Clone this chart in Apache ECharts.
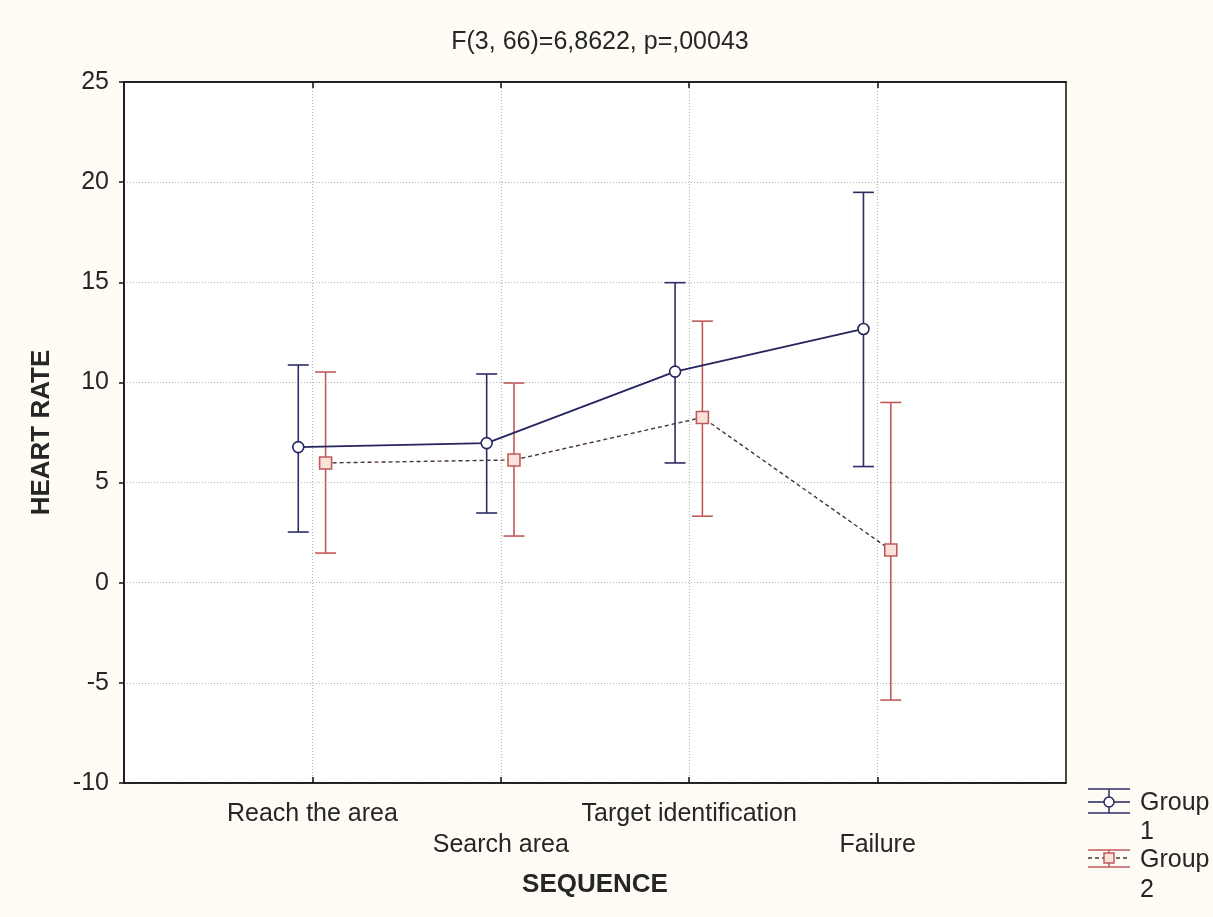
<!DOCTYPE html>
<html>
<head>
<meta charset="utf-8">
<script src="https://cdn.jsdelivr.net/npm/echarts@6/dist/echarts.min.js"></script>
<style>
  html, body { margin: 0; padding: 0; background: #fefcf4; }
  #chart { width: 1213px; height: 917px; }
</style>
</head>
<body>
<div id="chart"></div>
<script>
// Heart rate by mission sequence, means with confidence intervals per group
const categories = ['Reach the area', 'Search area', 'Target identification', 'Failure'];
const yTicks = [-10, -5, 0, 5, 10, 15, 20, 25];

const group1Mean  = [6.77, 6.97, 10.54, 12.67];
const group1Upper = [10.87, 10.42, 14.98, 19.49];
const group1Lower = [2.53, 3.48, 5.98, 5.80];

const group2Mean  = [5.98, 6.13, 8.25, 1.63];
const group2Upper = [10.52, 9.97, 13.06, 9.00];
const group2Lower = [1.48, 2.33, 3.32, -5.86];

const FONT = '"Liberation Sans", Arial, sans-serif';
const TEXT = '#262626';
const C1 = '#24245e';
const C1bar = '#2c2c66';
const C2 = '#c05a5a';
const C2line = '#4a3434';

// groups sit slightly left / right of each category position
const OFFSET1 = -0.075;
const OFFSET2 = 0.07;

function pointsFor(means, off) {
  return means.map((v, i) => [i + 1 + off, v]);
}
function barsFor(lower, upper, off) {
  return lower.map((lo, i) => [i + 1 + off, lo, upper[i]]);
}

function errorBarRenderer(color) {
  return function (params, api) {
    const x = api.value(0);
    const lo = api.coord([x, api.value(1)]);
    const hi = api.coord([x, api.value(2)]);
    const half = 10.5;
    const style = { stroke: color, lineWidth: 1.6, fill: null };
    return {
      type: 'group',
      children: [
        { type: 'line', shape: { x1: lo[0], y1: lo[1], x2: hi[0], y2: hi[1] }, style: style },
        { type: 'line', shape: { x1: hi[0] - half, y1: hi[1], x2: hi[0] + half, y2: hi[1] }, style: style },
        { type: 'line', shape: { x1: lo[0] - half, y1: lo[1], x2: lo[0] + half, y2: lo[1] }, style: style }
      ]
    };
  };
}

const chart = echarts.init(document.getElementById('chart'));

const xAxisBase = {
  type: 'value',
  min: 0,
  max: 5,
  interval: 1,
  axisLine: { show: true, onZero: false, lineStyle: { color: '#111', width: 1.5 } },
  axisTick: {
    show: true, inside: true, length: 6,
    lineStyle: { color: '#111', width: 1.5 },
    customValues: [1, 2, 3, 4]
  }
};

// legend swatches drawn as small error-bar glyphs with wrapped labels
const legendGraphics = [
  // Group 1
  { type: 'line', shape: { x1: 1088, y1: 789, x2: 1130, y2: 789 }, style: { stroke: C1bar, lineWidth: 1.5 } },
  { type: 'line', shape: { x1: 1088, y1: 813, x2: 1130, y2: 813 }, style: { stroke: C1bar, lineWidth: 1.5 } },
  { type: 'line', shape: { x1: 1109, y1: 789, x2: 1109, y2: 813 }, style: { stroke: C1bar, lineWidth: 1.5 } },
  { type: 'line', shape: { x1: 1088, y1: 802, x2: 1130, y2: 802 }, style: { stroke: C1, lineWidth: 1.5 } },
  { type: 'circle', shape: { cx: 1109, cy: 802, r: 5 }, style: { fill: '#fff', stroke: C1, lineWidth: 1.5 } },
  { type: 'text', left: 1140, top: 789, style: { text: 'Group\n1', font: '25px ' + FONT, fill: TEXT, lineHeight: 29 } },
  // Group 2
  { type: 'line', shape: { x1: 1088, y1: 850, x2: 1130, y2: 850 }, style: { stroke: C2, lineWidth: 1.5 } },
  { type: 'line', shape: { x1: 1088, y1: 867, x2: 1130, y2: 867 }, style: { stroke: C2, lineWidth: 1.5 } },
  { type: 'line', shape: { x1: 1109, y1: 850, x2: 1109, y2: 867 }, style: { stroke: C2, lineWidth: 1.5 } },
  { type: 'line', shape: { x1: 1088, y1: 858, x2: 1130, y2: 858 }, style: { stroke: C2line, lineWidth: 1.3, lineDash: [4, 3] } },
  { type: 'rect', shape: { x: 1104, y: 853, width: 10, height: 10 }, style: { fill: '#fbe2da', stroke: C2, lineWidth: 1.5 } },
  { type: 'text', left: 1140, top: 845, style: { text: 'Group\n2', font: '25px ' + FONT, fill: TEXT, lineHeight: 30 } }
];

chart.setOption({
  backgroundColor: '#fefcf4',
  animation: false,
  title: {
    text: 'F(3, 66)=6,8622, p=,00043',
    left: 595,
    textAlign: 'center',
    top: 25,
    textStyle: { fontFamily: FONT, fontSize: 25, fontWeight: 'normal', color: TEXT }
  },
  grid: {
    left: 124, right: 147, top: 82, bottom: 134,
    show: true, backgroundColor: '#ffffff',
    borderColor: '#111', borderWidth: 1.5
  },
  xAxis: [
    Object.assign({}, xAxisBase, {
      position: 'bottom',
      name: 'SEQUENCE',
      nameLocation: 'middle',
      nameGap: 89,
      nameTextStyle: { fontFamily: FONT, fontSize: 26, fontWeight: 'bold', color: TEXT },
      axisLabel: {
        fontFamily: FONT, fontSize: 25, color: TEXT, margin: 16,
        lineHeight: 31,
        formatter: function (v) {
          const i = Math.round(v) - 1;
          if (i < 0 || i >= categories.length) return '';
          return (i % 2 === 1 ? '\n' : '') + categories[i];
        }
      },
      splitLine: { show: true, lineStyle: { color: '#b4b4b4', type: [1, 2], width: 1.2 } }
    }),
    Object.assign({}, xAxisBase, {
      position: 'top',
      axisLabel: { show: false },
      splitLine: { show: false }
    })
  ],
  yAxis: {
    type: 'value',
    min: yTicks[0],
    max: yTicks[yTicks.length - 1],
    interval: 5,
    name: 'HEART RATE',
    nameLocation: 'middle',
    nameGap: 69,
    nameRotate: 90,
    nameTextStyle: { fontFamily: FONT, fontSize: 26, fontWeight: 'bold', color: TEXT },
    axisLine: { show: true, lineStyle: { color: '#111', width: 1.5 } },
    axisTick: { show: true, inside: false, length: 5, lineStyle: { color: '#111', width: 1.5 } },
    axisLabel: { fontFamily: FONT, fontSize: 25, color: TEXT, margin: 15 },
    splitLine: { show: true, lineStyle: { color: '#b4b4b4', type: [1, 2], width: 1.2 } }
  },
  series: [
    {
      name: 'Group 1 CI',
      type: 'custom',
      renderItem: errorBarRenderer(C1bar),
      data: barsFor(group1Lower, group1Upper, OFFSET1),
      encode: { x: 0, y: [1, 2] },
      z: 2
    },
    {
      name: 'Group 2 CI',
      type: 'custom',
      renderItem: errorBarRenderer(C2),
      data: barsFor(group2Lower, group2Upper, OFFSET2),
      encode: { x: 0, y: [1, 2] },
      z: 2
    },
    {
      name: 'Group 1',
      type: 'line',
      data: pointsFor(group1Mean, OFFSET1),
      symbol: 'circle',
      symbolSize: 11,
      lineStyle: { color: C1, width: 1.8 },
      itemStyle: { color: '#ffffff', borderColor: C1, borderWidth: 1.6 },
      z: 4
    },
    {
      name: 'Group 2',
      type: 'line',
      data: pointsFor(group2Mean, OFFSET2),
      symbol: 'rect',
      symbolSize: 12,
      lineStyle: { color: C2line, width: 1.4, type: [4, 3] },
      itemStyle: { color: '#fbe2da', borderColor: C2, borderWidth: 1.6 },
      z: 3
    }
  ],
  graphic: legendGraphics
});
</script>
</body>
</html>
